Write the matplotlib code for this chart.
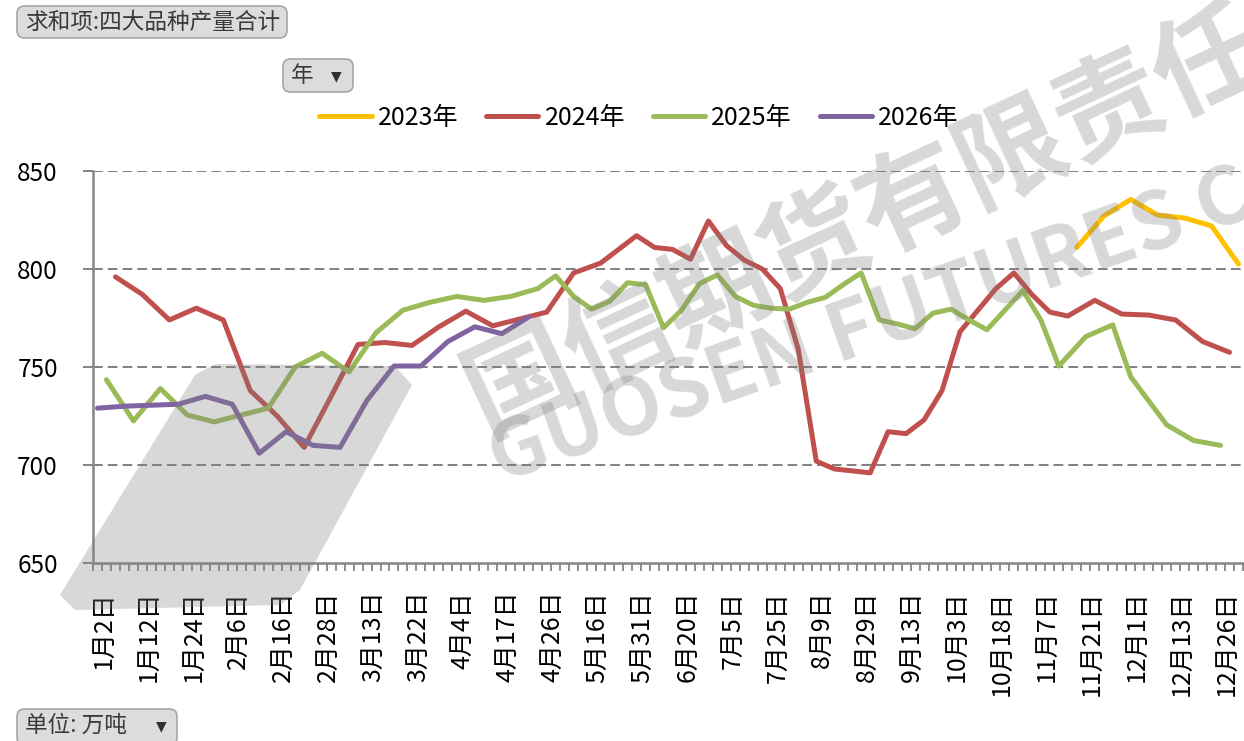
import numpy as np
import matplotlib
matplotlib.use('agg')
import matplotlib.pyplot as plt
import matplotlib.transforms as mtrans
from matplotlib.patches import Polygon, FancyBboxPatch

plt.rcParams['font.family'] = ['Noto Sans CJK SC', 'DejaVu Sans']

# category axis: 128 dates, every 5th one labelled
n_cat = 128
date_labels = ['1月2日', '1月12日', '1月24日', '2月6日', '2月16日', '2月28日', '3月13日',
               '3月22日', '4月4日', '4月17日', '4月26日', '5月16日', '5月31日', '6月20日',
               '7月5日', '7月25日', '8月9日', '8月29日', '9月13日', '10月3日', '10月18日',
               '11月7日', '11月21日', '12月1日', '12月13日', '12月26日']

# series: category index + value (万吨)
x_2023 = [109, 112, 115, 118, 121, 124, 127]
y_2023 = [811, 827, 835.5, 827.5, 826, 822, 802.5]

x_2024 = [2, 5, 8, 11, 14, 17, 20, 23, 26, 29, 32, 35, 38, 41, 44, 47, 50, 53, 56,
          60, 62, 64, 66, 68, 70, 72, 74, 76, 78, 80, 82, 86, 88, 90, 92, 94, 96, 98,
          100, 102, 104, 106, 108, 111, 114, 117, 120, 123, 126]
y_2024 = [796, 787, 774, 780, 774, 738, 725, 709, 735, 761.5, 762.5, 761, 770.5, 778.5,
          771, 774.5, 778, 798, 803, 817, 811, 810, 805, 824.5, 812, 804.5, 800, 790,
          759, 702, 698, 696, 717, 716, 723, 738, 768, 779, 790, 798, 787, 778, 776,
          784, 777, 776.5, 774, 763, 757.5]

x_2025 = [1, 4, 7, 10, 13, 16, 19, 22, 25, 28, 31, 34, 37, 40, 43, 46, 49, 51, 53, 55,
          57, 59, 61, 63, 65, 67, 69, 71, 73, 75, 77, 79, 81, 83, 85, 87, 89, 91, 93,
          95, 97, 99, 101, 103, 105, 107, 110, 113, 115, 119, 122, 125]
y_2025 = [743.5, 722.5, 739, 725.5, 722, 725.5, 729, 750, 757, 747.5, 767.5, 779, 783,
          786, 784, 786, 790, 796.5, 786, 779.5, 783.5, 793, 792, 770, 779, 792.5, 797,
          786, 781.5, 780, 779.5, 783, 785.5, 792, 798, 774, 772, 769.5, 777.5, 779.5,
          774, 769, 779, 789, 774, 750.5, 765.5, 771.5, 745, 720.5, 712.5, 710]

x_2026 = [0, 3, 6, 9, 12, 15, 18, 21, 24, 27, 30, 33, 36, 39, 42, 45, 48]
y_2026 = [729, 730, 730.5, 731, 735, 731, 706, 717, 710, 709, 733, 750.5, 750.5, 763,
          770.5, 767, 775.5]

series = [('2023年', x_2023, y_2023, '#FFC000'),
          ('2024年', x_2024, y_2024, '#C0504D'),
          ('2025年', x_2025, y_2025, '#9BBB59'),
          ('2026年', x_2026, y_2026, '#8064A2')]

W, H = 1244, 741
fig = plt.figure(figsize=(W / 100, H / 100), dpi=100)
ax = fig.add_axes([93 / W, 1 - 563 / H, 1150 / W, 392 / H])


def px(x, y):
    return (x / W, 1 - y / H)


# logo watermark behind everything
logo = Polygon([px(215, 364), px(395, 366), px(412, 385), px(300, 590), px(280, 605),
                px(75, 610), px(60, 595), px(195, 375)], closed=True,
               transform=fig.transFigure, facecolor='#7f7f7f', alpha=0.3,
               edgecolor='none', zorder=0)
fig.patches.append(logo)

for name, xs, ys, col in series:
    ax.plot(xs, ys, color=col, lw=3.6, solid_capstyle='round',
            solid_joinstyle='round', label=name, zorder=3)

ax.set_xlim(-0.5, n_cat - 0.5)
ax.set_ylim(650, 850)
ax.set_yticks([650, 700, 750, 800, 850])
ax.tick_params(axis='y', length=7.2, width=1.4, color='#868686', labelsize=17.5, pad=18)
for v in [700, 750, 800, 850]:
    ax.axhline(v, color='#808080', lw=1.4, dashes=(5, 2.6), zorder=1)

ax.set_xticks(np.arange(0, n_cat, 5))
ax.set_xticklabels(date_labels, rotation=90, fontsize=18)
ax.tick_params(axis='x', length=0, pad=20)
ax.set_xticks(np.arange(-0.5, n_cat, 1), minor=True)
ax.tick_params(axis='x', which='minor', length=6, width=1.3, color='#868686')
shift = mtrans.ScaledTranslation(6 / 100, 0, fig.dpi_scale_trans)
for lab in ax.get_xticklabels():
    lab.set_transform(lab.get_transform() + shift)

ax.patch.set_alpha(0)
for s in ['top', 'right']:
    ax.spines[s].set_visible(False)
for s in ['left', 'bottom']:
    ax.spines[s].set_color('#868686')
    ax.spines[s].set_linewidth(1.8)

leg = ax.legend(loc='center', bbox_to_anchor=px(639, 118),
                bbox_transform=fig.transFigure, ncol=4, frameon=False, fontsize=18,
                handlelength=2.1, handletextpad=0.25, columnspacing=1.1)

# watermark text
wm = dict(color='#7f7f7f', alpha=0.3, fontweight='bold',
          ha='center', va='center', zorder=10)
fig.text(*px(865, 222), '国信期货有限责任', fontsize=78, rotation=25, **wm)
fig.text(*px(870, 327), 'GUOSEN FUTURES C', fontsize=58, rotation=19.5, **wm)


# pivot-chart field buttons
def button(x0, y0, x1, y1):
    b = FancyBboxPatch(px(x0, y1), (x1 - x0) / W, (y1 - y0) / H,
                       boxstyle='round,pad=0,rounding_size=0.006',
                       transform=fig.transFigure, facecolor='#dcdcdc',
                       edgecolor='#a6a6a6', lw=1.2, mutation_aspect=W / H)
    fig.patches.append(b)


button(17, 6, 287, 38)
fig.text(*px(25, 22), '求和项:四大品种产量合计', fontsize=16.3, color='#3a3a3a',
         va='center', ha='left')
button(283, 59, 353, 92)
fig.text(*px(291, 75), '年', fontsize=16.3, color='#3a3a3a', va='center', ha='left')
fig.text(*px(336, 76), '▼', fontsize=10, color='#303030', va='center',
         ha='center', family=['DejaVu Sans'])
button(17, 709, 177, 745)
fig.text(*px(25, 725), '单位: 万吨', fontsize=16.3, color='#3a3a3a',
         va='center', ha='left')
fig.text(*px(161, 726), '▼', fontsize=10, color='#303030', va='center',
         ha='center', family=['DejaVu Sans'])

fig.savefig('out.png', dpi=100)
